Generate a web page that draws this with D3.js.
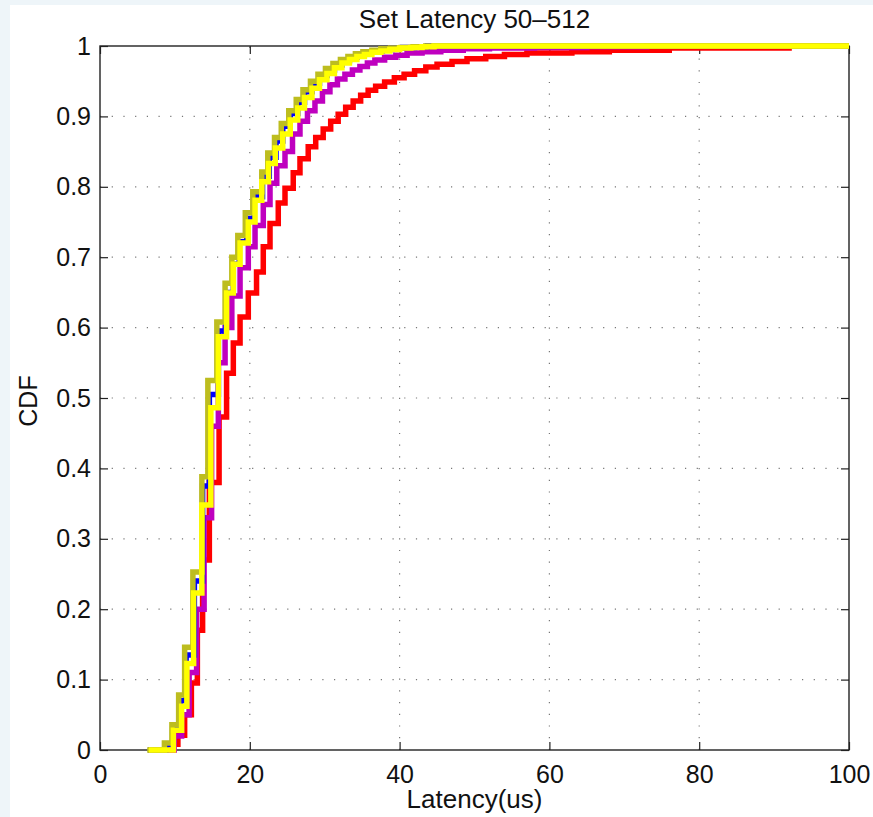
<!DOCTYPE html>
<html>
<head>
<meta charset="utf-8">
<script src="https://cdn.jsdelivr.net/npm/d3@7"></script>
<style>
  body { margin: 0; background: #eef5f9; }
  svg { display: block; }
  text { font-family: "Liberation Sans", Arial, Helvetica, sans-serif; fill: #111; }
</style>
</head>
<body>
<script>
// Datos: latencia (us) donde cambia el escalón y valor de la CDF desde ahí
const redX = [7.5, 9.8, 10.4, 11.3, 12.2, 13.0, 13.7, 14.6, 15.9, 16.9, 17.8, 18.7, 19.8, 20.9, 21.8, 22.7, 23.8, 24.7, 25.8, 26.7, 27.8, 28.8, 29.8, 30.8, 31.8, 32.8, 33.8, 34.8, 35.8, 36.8, 38, 39.3, 40.6, 42, 43.5, 45, 47, 49, 51.5, 54, 57, 63, 68, 76, 92, 100];
const redY = [0, .008, .021, .05, .095, .17, .27, .38, .473, .535, .578, .615, .649, .679, .715, .748, .777, .798, .82, .84, .857, .87, .882, .893, .903, .913, .922, .93, .937, .943, .949, .955, .96, .965, .97, .974, .978, .982, .985, .988, .99, .992, .994, .997, 1, 1];

const magentaX = [7, 9.9, 10.9, 11.9, 12.9, 13.9, 14.9, 15.8, 16.7, 17.6, 18.7, 19.8, 20.7, 21.8, 22.7, 23.6, 24.7, 25.7, 26.7, 27.7, 28.7, 29.7, 30.7, 31.7, 32.7, 33.7, 34.7, 35.7, 36.7, 38, 39.5, 41, 43, 45.5, 48.5, 52, 58, 65, 73, 100];
const magentaY = [0, .02, .05, .11, .2, .33, .46, .55, .60, .645, .685, .715, .745, .775, .805, .83, .85, .875, .893, .908, .922, .935, .945, .953, .96, .966, .971, .976, .98, .984, .987, .99, .992, .994, .996, .997, .998, .999, 1, 1];

const blueX = [6.4, 8.8, 9.7, 10.7, 11.5, 12.6, 13.7, 14.6, 15.8, 16.8, 17.8, 18.6, 19.6, 20.6, 21.7, 22.6, 23.5, 24.4, 25.4, 26.4, 27.3, 28.3, 29.3, 30.3, 31.3, 32.3, 33.3, 34.3, 35.3, 36.5, 37.7, 39, 40.4, 42, 43.7, 100];
const blueY = [0, .008, .03, .07, .135, .24, .375, .505, .595, .65, .69, .722, .755, .786, .815, .842, .865, .886, .904, .92, .935, .947, .958, .966, .973, .979, .984, .988, .991, .993, .995, .997, .998, .999, 1, 1];

const oliveX = [6.3, 8.6, 9.6, 10.5, 11.3, 12.4, 13.6, 14.4, 15.6, 16.7, 17.6, 18.4, 19.4, 20.4, 21.6, 22.4, 23.3, 24.2, 25.2, 26.2, 27.1, 28.1, 29.1, 30.1, 31.1, 32.1, 33.1, 34.1, 35.1, 36.3, 37.5, 38.8, 40.2, 41.8, 43.5, 100];
const oliveY = [0, .01, .036, .078, .146, .253, .388, .525, .608, .663, .70, .731, .763, .793, .821, .848, .87, .89, .908, .924, .938, .95, .96, .968, .975, .981, .985, .989, .992, .994, .996, .997, .998, .999, 1, 1];

const yellowX = [6.5, 9.8, 10.9, 11.6, 12.5, 13.6, 14.8, 15.8, 16.9, 17.8, 18.7, 19.8, 20.7, 21.6, 22.5, 23.4, 24.4, 25.4, 26.4, 27.3, 28.3, 29.3, 30.3, 31.3, 32.3, 33.3, 34.3, 35.3, 36.3, 37.5, 38.7, 40, 41.5, 43, 44.6, 100];
const yellowY = [0, .028, .062, .123, .223, .348, .486, .587, .649, .69, .72, .75, .781, .807, .833, .855, .875, .895, .912, .927, .94, .952, .961, .969, .976, .981, .985, .988, .991, .993, .995, .997, .998, .999, 1, 1];

const xTicks = [0, 20, 40, 60, 80, 100];
const yTicks = [0, 0.1, 0.2, 0.3, 0.4, 0.5, 0.6, 0.7, 0.8, 0.9, 1];

// orden de dibujo: el azul queda casi tapado, el amarillo encima de todo
const series = [
  { x: redX, y: redY, color: '#ff0000' },
  { x: magentaX, y: magentaY, color: '#bf00bf' },
  { x: blueX, y: blueY, color: '#0000ff' },
  { x: oliveX, y: oliveY, color: '#bdbd1f' },
  { x: yellowX, y: yellowY, color: '#ffff00' },
];

const WIDTH = 873;
const HEIGHT = 817;
const margin = { top: 46, bottom: 67, left: 100, right: 24 };
const FONT = '25px';

const svg = d3.select('body')
  .append('svg')
  .attr('width', WIDTH)
  .attr('height', HEIGHT);

// fondo blanco de la figura
svg.append('rect')
  .attr('x', 10).attr('y', 5)
  .attr('width', WIDTH - 10).attr('height', HEIGHT - 5)
  .attr('fill', '#fff');

const x = d3.scaleLinear()
  .domain([0, 100])
  .range([margin.left, WIDTH - margin.right]);

const y = d3.scaleLinear()
  .domain([0, 1])
  .range([HEIGHT - margin.bottom, margin.top]);

// grilla punteada
const grid = svg.append('g')
  .attr('stroke', '#777')
  .attr('stroke-width', 1.2)
  .attr('stroke-dasharray', '1.2,10.5');

grid.selectAll('.gx')
  .data(xTicks.slice(1, -1))
  .enter()
  .append('line')
  .attr('x1', d => x(d)).attr('x2', d => x(d))
  .attr('y1', y(0)).attr('y2', y(1));

grid.selectAll('.gy')
  .data(yTicks.slice(1, -1))
  .enter()
  .append('line')
  .attr('y1', d => y(d)).attr('y2', d => y(d))
  .attr('x1', x(0)).attr('x2', x(100));

// ejes con ticks hacia adentro
function styleAxis(g) {
  g.select('.domain').remove();
  g.selectAll('.tick line').attr('stroke', '#222').attr('stroke-width', 1.2);
  g.selectAll('.tick text')
    .attr('fill', '#111')
    .style('font-size', FONT)
    .style('font-family', '"Liberation Sans", Arial, sans-serif');
}

const ejeX = d3.axisBottom(x).tickValues(xTicks).tickSize(-8).tickPadding(15).tickFormat(d3.format('d'));
svg.append('g')
  .attr('transform', `translate(0, ${y(0)})`)
  .call(ejeX)
  .call(styleAxis)
  .selectAll('.tick text').attr('dy', '0.71em');

const ejeY = d3.axisLeft(y).tickValues(yTicks).tickSize(-8).tickPadding(9).tickFormat(d => d === 0 || d === 1 ? d3.format('d')(d) : d3.format('.1f')(d));
svg.append('g')
  .attr('transform', `translate(${x(0)}, 0)`)
  .call(ejeY)
  .call(styleAxis);

svg.append('g')
  .attr('transform', `translate(0, ${y(1)})`)
  .call(d3.axisTop(x).tickValues(xTicks).tickSize(-8).tickFormat(''))
  .call(styleAxis);

svg.append('g')
  .attr('transform', `translate(${x(100)}, 0)`)
  .call(d3.axisRight(y).tickValues(yTicks).tickSize(-8).tickFormat(''))
  .call(styleAxis);

// marco
svg.append('rect')
  .attr('x', x(0)).attr('y', y(1))
  .attr('width', x(100) - x(0)).attr('height', y(0) - y(1))
  .attr('fill', 'none')
  .attr('stroke', '#222')
  .attr('stroke-width', 1.4);

// curvas CDF escalonadas
const linea = d3.line()
  .x(d => x(d[0]))
  .y(d => y(d[1]))
  .curve(d3.curveStepAfter);

svg.selectAll('.cdf')
  .data(series)
  .enter()
  .append('path')
  .attr('d', s => linea(s.x.map((v, i) => [v, s.y[i]])))
  .attr('fill', 'none')
  .attr('stroke', s => s.color)
  .attr('stroke-width', 5.5)
  .attr('stroke-linejoin', 'miter');

// textos
svg.append('text')
  .attr('x', (x(0) + x(100)) / 2)
  .attr('y', 28)
  .attr('text-anchor', 'middle')
  .style('font-size', '26px')
  .text('Set Latency 50–512');

svg.append('text')
  .attr('x', (x(0) + x(100)) / 2)
  .attr('y', 808)
  .attr('text-anchor', 'middle')
  .style('font-size', '26px')
  .text('Latency(us)');

svg.append('text')
  .attr('transform', 'translate(37, 401) rotate(-90)')
  .attr('text-anchor', 'middle')
  .style('font-size', FONT)
  .text('CDF');
</script>
</body>
</html>
